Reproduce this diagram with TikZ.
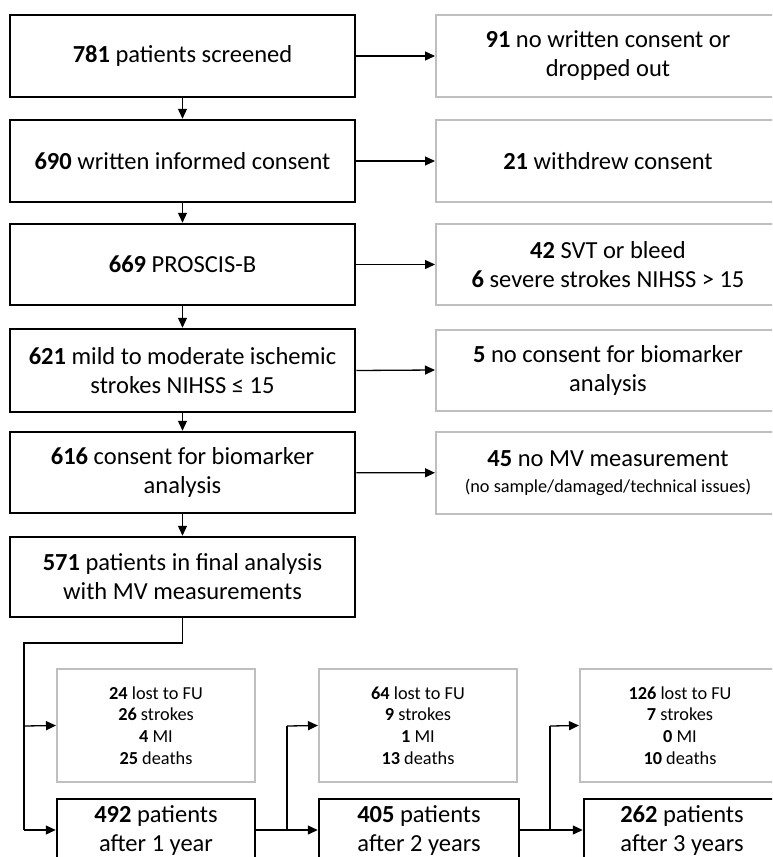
\documentclass[tikz,border=0pt]{standalone}
\usepackage{fontspec}
\setmainfont{Carlito}
\usetikzlibrary{arrows.meta}
\definecolor{boxgray}{RGB}{191,191,191}
\begin{document}
\begin{tikzpicture}[x=1pt,y=-1pt,
  big/.style={font=\fontsize{24.5}{29}\selectfont},
  small/.style={font=\fontsize{18.3}{21.7}\selectfont},
  lbox/.style={draw=black, line width=2.5pt, inner sep=0pt, align=center, big, minimum width=345pt},
  rbox/.style={draw=boxgray, line width=2pt, inner sep=0pt, align=center, big, minimum width=344pt},
  fubox/.style={draw=boxgray, line width=2pt, inner sep=0pt, align=center, small, minimum height=113pt},
  yrbox/.style={draw=black, line width=2.5pt, inner sep=0pt, align=center, big, minimum height=62pt},
  arr/.style={-{Triangle[length=10pt,width=9pt]}, line width=1.3pt},
  ln/.style={line width=1.3pt}]
\useasboundingbox (0,0) rectangle (772,857);
\clip (0,0) rectangle (772,857);
\fill[white] (0,0) rectangle (772,857);

% left column
\node[lbox, minimum height=82pt] (b1) at (182.5,56) {\textbf{781} patients screened};
\node[lbox, minimum height=82pt] (b2) at (182.5,161) {\textbf{690} written informed consent};
\node[lbox, minimum height=81pt] (b3) at (182.5,264.5) {\textbf{669} PROSCIS-B};
\node[lbox, minimum height=83pt] (b4) at (182.5,370.5) {\textbf{621} mild to moderate ischemic\\strokes NIHSS ≤ 15};
\node[lbox, minimum height=81pt] (b5) at (182.5,472.5) {\textbf{616} consent for biomarker\\analysis};
\node[lbox, minimum height=80pt] (b6) at (182.5,577) {\textbf{571} patients in final analysis\\with MV measurements};

% right column
\node[rbox, minimum height=82pt] (r1) at (608,56) {\textbf{91} no written consent or\\dropped out};
\node[rbox, minimum height=82pt] (r2) at (608,161) {\textbf{21} withdrew consent};
\node[rbox, minimum height=81pt] (r3) at (608,264.5) {\textbf{42} SVT or bleed\\\textbf{6} severe strokes NIHSS > 15};
\node[rbox, minimum height=81pt] (r4) at (608,370) {\textbf{5} no consent for biomarker\\analysis};
\node[rbox, minimum height=82pt] (r5) at (608,473) {\textbf{45} no MV measurement\\[-3pt]{\fontsize{18.3}{21.7}\selectfont (no sample/damaged/technical issues)}};

% follow-up boxes
\node[fubox, minimum width=198pt] (f1) at (156,725.5) {\textbf{24} lost to FU\\\textbf{26} strokes\\\textbf{4} MI\\\textbf{25} deaths};
\node[fubox, minimum width=198pt] (f2) at (418,725.5) {\textbf{64} lost to FU\\\textbf{9} strokes\\\textbf{1} MI\\\textbf{13} deaths};
\node[fubox, minimum width=200pt] (f3) at (680,725.5) {\textbf{126} lost to FU\\\textbf{7} strokes\\\textbf{0} MI\\\textbf{10} deaths};

\node[yrbox, minimum width=198pt] (y1) at (156,830) {\textbf{492} patients\\after 1 year};
\node[yrbox, minimum width=200pt] (y2) at (419,830) {\textbf{405} patients\\after 2 years};
\node[yrbox, minimum width=196pt] (y3) at (682,830) {\textbf{262} patients\\after 3 years};

% vertical arrows
\draw[arr] (b1) -- (b2);
\draw[arr] (b2) -- (b3);
\draw[arr] (b3) -- (b4);
\draw[arr] (b4) -- (b5);
\draw[arr] (b5) -- (b6);

% horizontal arrows
\draw[arr] (b1) -- (r1);
\draw[arr] (b2) -- (r2);
\draw[arr] (b3) -- (r3);
\draw[arr] (b4.east) -- (r4.west);
\draw[arr] (b5) -- (r5);

% follow-up connectors
\coordinate (c1) at (183,643);
\coordinate (c2) at (24,643);
\coordinate (c3) at (24,726);
\coordinate (c4) at (24,830);
\draw[ln] (b6.south) |- (c2) -- (c4);
\draw[arr] (c3) -- (f1.west);
\draw[arr] (c4) -- (y1.west);

\coordinate (d1) at (287,830);
\coordinate (d2) at (287,726);
\draw[arr] (y1.east) -- (y2.west);
\draw[ln] (d1) -- (d2);
\draw[arr] (d2) -- (f2.west);

\coordinate (e1) at (550,830);
\coordinate (e2) at (550,726);
\draw[arr] (y2.east) -- (y3.west);
\draw[ln] (e1) -- (e2);
\draw[arr] (e2) -- (f3.west);
\end{tikzpicture}
\end{document}
